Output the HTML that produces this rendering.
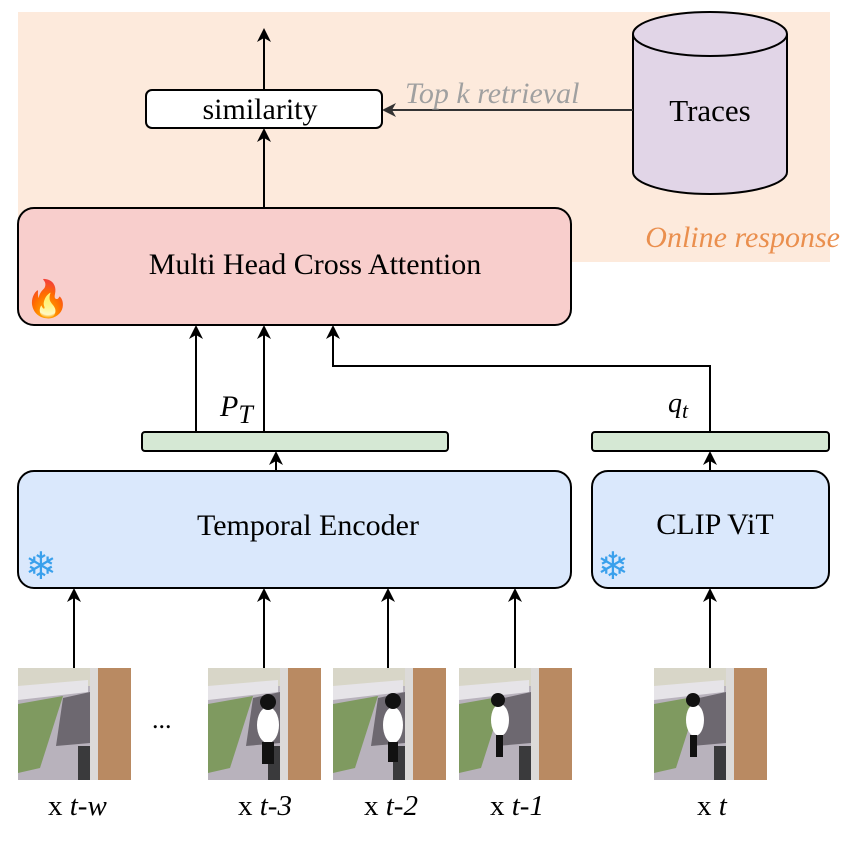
<!DOCTYPE html>
<html><head><meta charset="utf-8"><style>
body{margin:0;background:#fff}
svg text{font-family:"Liberation Serif",serif}
</style></head><body>
<svg width="849" height="842" viewBox="0 0 849 842" xmlns="http://www.w3.org/2000/svg">
<defs>
<marker id="a" markerWidth="14" markerHeight="14" refX="12" refY="7" orient="auto" markerUnits="userSpaceOnUse">
<path d="M0,0 L14,7 L0,14 L4,7 Z" fill="#000"/></marker>
<marker id="ag" markerWidth="14" markerHeight="14" refX="12" refY="7" orient="auto" markerUnits="userSpaceOnUse">
<path d="M0,0 L14,7 L0,14 L4,7 Z" fill="#333"/></marker>
<g id="img">
<rect x="0" y="0" width="113" height="112" fill="#b8b2bc"/>
<rect x="0" y="0" width="113" height="18" fill="#d8d6c8"/>
<polygon points="0,18 70,12 70,24 0,32" fill="#e6e4e8"/>
<polygon points="0,36 45,28 22,100 0,105" fill="#7f9a60"/>
<polygon points="45,30 72,24 72,75 38,78" fill="#6d6870"/>
<rect x="60" y="78" width="14" height="34" fill="#3a3a3c"/>
<rect x="72" y="0" width="8" height="112" fill="#dcdad8"/>
<rect x="80" y="0" width="33" height="112" fill="#b98a62"/>
</g>
</defs>
<rect x="18" y="12" width="812" height="250" fill="#fdeadc"/>
<text x="840" y="247" font-size="30" font-style="italic" fill="#ea8f4e" text-anchor="end">Online response</text>
<path d="M633,34 L633,172 A77,22 0 0 0 787,172 L787,34" fill="#e1d5e7" stroke="#000" stroke-width="2"/>
<ellipse cx="710" cy="34" rx="77" ry="22" fill="#e1d5e7" stroke="#000" stroke-width="2"/>
<text x="710" y="121" font-size="31" text-anchor="middle">Traces</text>
<line x1="633" y1="110" x2="384" y2="110" stroke="#333" stroke-width="2" marker-end="url(#ag)"/>
<text x="405" y="103" font-size="30" font-style="italic" fill="#a0a0a0">Top k retrieval</text>
<rect x="146" y="90" width="236" height="38" rx="6" fill="#fff" stroke="#000" stroke-width="2"/>
<text x="260" y="119" font-size="30" text-anchor="middle">similarity</text>
<line x1="264" y1="90" x2="264" y2="30" stroke="#000" stroke-width="2" marker-end="url(#a)"/>
<line x1="264" y1="208" x2="264" y2="130" stroke="#000" stroke-width="2" marker-end="url(#a)"/>
<rect x="18" y="208" width="553" height="117" rx="16" fill="#f8cecc" stroke="#000" stroke-width="2"/>
<text x="315" y="274" font-size="30" text-anchor="middle">Multi Head Cross Attention</text>
<text x="25" y="311" font-size="36">🔥</text>
<line x1="196" y1="432" x2="196" y2="327" stroke="#000" stroke-width="2" marker-end="url(#a)"/>
<line x1="264" y1="432" x2="264" y2="327" stroke="#000" stroke-width="2" marker-end="url(#a)"/>
<polyline points="710,432 710,366 333,366 333,327" fill="none" stroke="#000" stroke-width="2" marker-end="url(#a)"/>
<text x="220" y="416" font-size="30" font-style="italic">P<tspan font-size="26" dy="7">T</tspan></text>
<text x="668" y="412" font-size="28" font-style="italic">q<tspan font-size="22" dy="6">t</tspan></text>
<rect x="142" y="432" width="306" height="19" rx="3" fill="#d5e8d4" stroke="#000" stroke-width="2"/>
<rect x="592" y="432" width="237" height="19" rx="3" fill="#d5e8d4" stroke="#000" stroke-width="2"/>
<line x1="276" y1="471" x2="276" y2="453" stroke="#000" stroke-width="2" marker-end="url(#a)"/>
<line x1="710" y1="471" x2="710" y2="453" stroke="#000" stroke-width="2" marker-end="url(#a)"/>
<rect x="18" y="471" width="553" height="117" rx="16" fill="#dae8fc" stroke="#000" stroke-width="2"/>
<text x="308" y="535" font-size="30" text-anchor="middle">Temporal Encoder</text>
<rect x="592" y="471" width="237" height="117" rx="16" fill="#dae8fc" stroke="#000" stroke-width="2"/>
<text x="715" y="534" font-size="30" text-anchor="middle">CLIP ViT</text>
<text x="25" y="579" font-size="38" fill="#3aa0ec">❄</text>
<text x="597" y="579" font-size="38" fill="#3aa0ec">❄</text>
<g stroke="#000" stroke-width="2">
<line x1="74" y1="668" x2="74" y2="590" marker-end="url(#a)"/>
<line x1="264" y1="668" x2="264" y2="590" marker-end="url(#a)"/>
<line x1="388" y1="668" x2="388" y2="590" marker-end="url(#a)"/>
<line x1="515" y1="668" x2="515" y2="590" marker-end="url(#a)"/>
<line x1="710" y1="668" x2="710" y2="590" marker-end="url(#a)"/>
</g>
<use href="#img" x="18" y="668"/>
<use href="#img" x="208" y="668"/>
<use href="#img" x="333" y="668"/>
<use href="#img" x="459" y="668"/>
<use href="#img" x="654" y="668"/>
<g fill="#fff"><ellipse cx="268" cy="725" rx="11" ry="18"/><ellipse cx="393" cy="725" rx="10" ry="18"/><ellipse cx="500" cy="720" rx="9" ry="16"/><ellipse cx="695" cy="720" rx="9" ry="16"/></g>
<g fill="#111"><circle cx="268" cy="702" r="8"/><circle cx="393" cy="701" r="8"/><circle cx="498" cy="700" r="7"/><circle cx="693" cy="700" r="7"/>
<rect x="262" y="742" width="12" height="22"/><rect x="388" y="742" width="10" height="20"/><rect x="496" y="735" width="7" height="22"/><rect x="690" y="735" width="7" height="22"/></g>
<text x="152" y="728" font-size="26">...</text>
<g font-size="29">
<text x="48" y="815">x <tspan font-style="italic">t-w</tspan></text>
<text x="238" y="815">x <tspan font-style="italic">t-3</tspan></text>
<text x="364" y="815">x <tspan font-style="italic">t-2</tspan></text>
<text x="490" y="815">x <tspan font-style="italic">t-1</tspan></text>
<text x="697" y="815">x <tspan font-style="italic">t</tspan></text>
</g>
</svg>
</body></html>
